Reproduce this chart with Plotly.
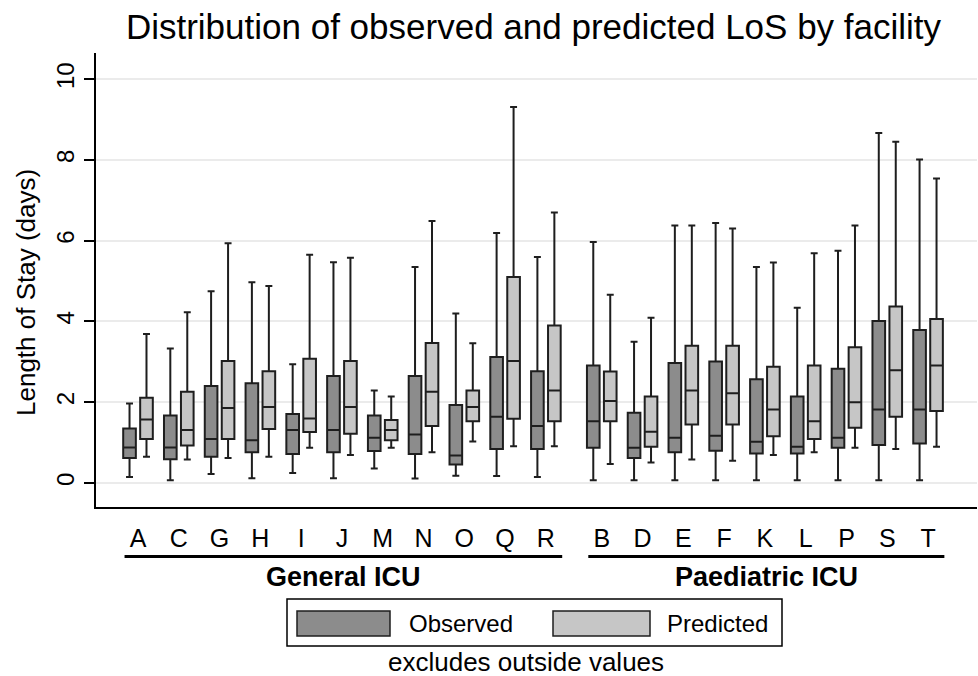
import plotly.graph_objects as go

# ---------------- data ----------------
general_units = ["A", "C", "G", "H", "I", "J", "M", "N", "O", "Q", "R"]
paediatric_units = ["B", "D", "E", "F", "K", "L", "P", "S", "T"]
group_names = ["General ICU", "Paediatric ICU"]
series_names = ["Observed", "Predicted"]
y_ticks = [0, 2, 4, 6, 8, 10]

# order: A C G H I J M N O Q R | B D E F K L P S T
obs_lower = [0.15, 0.07, 0.22, 0.12, 0.25, 0.12, 0.36, 0.11, 0.18, 0.17, 0.15,
             0.07, 0.07, 0.07, 0.07, 0.07, 0.07, 0.07, 0.07, 0.07]
obs_q1 = [0.62, 0.59, 0.65, 0.76, 0.72, 0.76, 0.79, 0.72, 0.46, 0.84, 0.84,
          0.87, 0.62, 0.76, 0.80, 0.73, 0.73, 0.87, 0.94, 0.98]
obs_median = [0.88, 0.88, 1.09, 1.06, 1.31, 1.31, 1.12, 1.20, 0.68, 1.64, 1.41,
              1.53, 0.87, 1.12, 1.17, 1.02, 0.90, 1.12, 1.82, 1.82]
obs_q3 = [1.35, 1.67, 2.40, 2.47, 1.71, 2.65, 1.67, 2.65, 1.93, 3.12, 2.77,
          2.91, 1.74, 2.97, 3.01, 2.57, 2.14, 2.83, 4.01, 3.79]
obs_upper = [1.97, 3.33, 4.75, 4.97, 2.94, 5.47, 2.29, 5.35, 4.20, 6.19, 5.60,
             5.97, 3.50, 6.38, 6.44, 5.35, 4.34, 5.75, 8.67, 8.01]

pred_lower = [0.65, 0.58, 0.62, 0.65, 0.87, 0.69, 0.87, 0.76, 1.03, 0.91, 0.91,
              0.47, 0.51, 0.58, 0.55, 0.69, 0.76, 0.87, 0.84, 0.90]
pred_q1 = [1.09, 0.93, 1.09, 1.34, 1.26, 1.22, 1.06, 1.41, 1.53, 1.59, 1.53,
           1.53, 0.90, 1.45, 1.45, 1.16, 1.09, 1.37, 1.64, 1.78]
pred_median = [1.57, 1.31, 1.86, 1.88, 1.60, 1.88, 1.31, 2.26, 1.88, 3.02, 2.29,
               2.03, 1.27, 2.29, 2.22, 1.82, 1.53, 2.00, 2.79, 2.91]
pred_q3 = [2.11, 2.26, 3.02, 2.77, 3.08, 3.02, 1.56, 3.47, 2.29, 5.10, 3.90,
           2.76, 2.14, 3.40, 3.40, 2.88, 2.91, 3.36, 4.37, 4.06]
pred_upper = [3.69, 4.23, 5.94, 4.88, 5.65, 5.58, 2.14, 6.49, 3.46, 9.31, 6.70,
              4.66, 4.09, 6.38, 6.30, 5.46, 5.69, 6.38, 8.45, 7.54]

# ---------------- layout helpers ----------------
W, H = 978, 676
PL, PR, PT, PB = 96, 977, 53, 507          # plot area in pixels
FONT = "Liberation Sans, Arial, Helvetica, sans-serif"
OBS_COLOR = "#8c8c8c"
PRED_COLOR = "#c6c6c6"
LINE_COLOR = "#1e1e1e"

GROUP_GAP = 1.37
categories = general_units + paediatric_units
positions = list(range(len(general_units))) + [
    len(general_units) - 1 + GROUP_GAP + j for j in range(len(paediatric_units))]

OFFSET = 0.208
BOX_W = 0.31

def px_x(p):
    return (p - PL) / (PR - PL)

def px_y(p):
    return (PB - p) / (PB - PT)

fig = go.Figure()
for name, color, sign, lo, q1, med, q3, up in [
    (series_names[0], OBS_COLOR, -1, obs_lower, obs_q1, obs_median, obs_q3, obs_upper),
    (series_names[1], PRED_COLOR, 1, pred_lower, pred_q1, pred_median, pred_q3, pred_upper),
]:
    fig.add_trace(go.Box(
        name=name,
        x=[p + sign * OFFSET for p in positions],
        lowerfence=lo, q1=q1, median=med, q3=q3, upperfence=up,
        width=BOX_W,
        whiskerwidth=0.55,
        fillcolor=color,
        line=dict(color=LINE_COLOR, width=2),
        boxpoints=False,
        showlegend=False,
        hoverinfo="skip",
    ))

x_range = [-1.03, positions[-1] + 1.2]

fig.update_layout(
    width=W, height=H,
    margin=dict(l=PL, r=W - PR, t=PT, b=H - PB),
    paper_bgcolor="white", plot_bgcolor="white",
    boxmode="overlay",
    font=dict(family=FONT, color="black"),
    title=dict(text="Distribution of observed and predicted LoS by facility",
               x=533.5 / W, xref="container", xanchor="center",
               y=1 - 27 / H, yref="container", yanchor="middle",
               font=dict(size=35, color="black", family=FONT)),
    xaxis=dict(
        range=x_range, tickmode="array", tickvals=positions, ticktext=categories,
        showgrid=False, zeroline=False, showline=True, linecolor="black",
        linewidth=2, ticks="", tickfont=dict(size=25, color="black"),
        ticklabelstandoff=8,
    ),
    yaxis=dict(
        range=[-0.595, 10.65], tickmode="array", tickvals=y_ticks,
        ticktext=[str(t) for t in y_ticks],
        showgrid=True, gridcolor="#ebebeb", gridwidth=1.5, zeroline=False,
        showline=True, linecolor="black", linewidth=2,
        ticks="outside", ticklen=10, tickwidth=1.5, tickcolor="black",
        tickangle=-90, tickfont=dict(size=24, color="black"),
        ticklabelstandoff=0,
    ),
)

shapes = []
annotations = []

# group underlines and labels
groups = [(group_names[0], positions[0], positions[len(general_units) - 1]),
          (group_names[1], positions[len(general_units)], positions[-1])]
for gname, start, end in groups:
    shapes.append(dict(type="line", xref="x", yref="paper",
                       x0=start - 0.33, x1=end + 0.4,
                       y0=px_y(556.5), y1=px_y(556.5),
                       line=dict(color="black", width=3)))
    annotations.append(dict(text="<b>%s</b>" % gname, xref="x", yref="paper",
                            x=(start - 0.33 + end + 0.4) / 2, y=px_y(577),
                            xanchor="center", yanchor="middle", showarrow=False,
                            font=dict(size=27, color="black", family=FONT)))

# y axis title
annotations.append(dict(text="Length of Stay (days)", xref="paper", yref="paper",
                        x=px_x(26), y=px_y(293), textangle=-90,
                        xanchor="center", yanchor="middle", showarrow=False,
                        font=dict(size=26, color="black", family=FONT)))

# custom legend
shapes.append(dict(type="rect", xref="paper", yref="paper",
                   x0=px_x(287), x1=px_x(782), y0=px_y(599), y1=px_y(646),
                   line=dict(color="black", width=1.5), fillcolor="white"))
for label, color, sx0, sx1, tx in [(series_names[0], OBS_COLOR, 297, 390, 407),
                                   (series_names[1], PRED_COLOR, 553, 650, 665)]:
    shapes.append(dict(type="rect", xref="paper", yref="paper",
                       x0=px_x(sx0), x1=px_x(sx1), y0=px_y(611), y1=px_y(636),
                       line=dict(color=LINE_COLOR, width=1.5), fillcolor=color))
    annotations.append(dict(text=label, xref="paper", yref="paper",
                            x=px_x(tx), y=px_y(623.5), xanchor="left",
                            yanchor="middle", showarrow=False,
                            font=dict(size=24, color="black", family=FONT)))

annotations.append(dict(text="excludes outside values", xref="paper", yref="paper",
                        x=px_x(526), y=px_y(662), xanchor="center", yanchor="middle",
                        showarrow=False, font=dict(size=26, color="black", family=FONT)))

fig.update_layout(shapes=shapes, annotations=annotations)
fig.write_html("out.html")
